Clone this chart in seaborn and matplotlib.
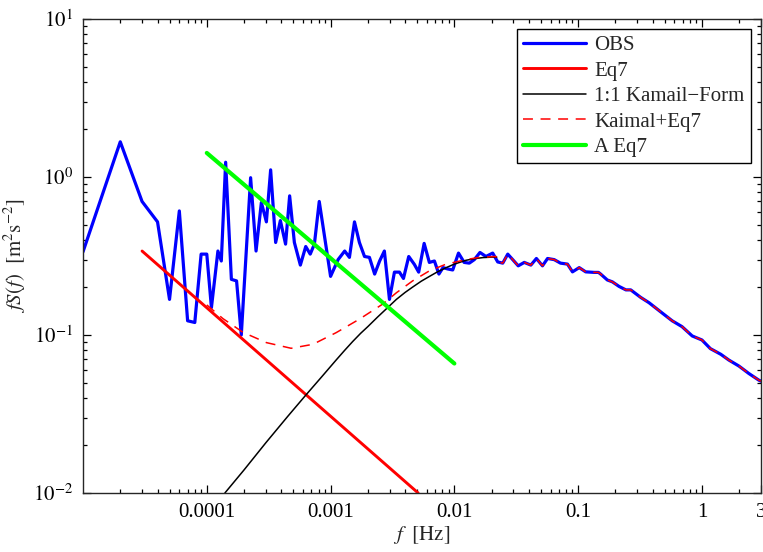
import numpy as np
import pandas as pd
import matplotlib
matplotlib.use("Agg")
import matplotlib.pyplot as plt
import seaborn as sns
from matplotlib.ticker import FixedLocator, NullFormatter, LogLocator

# ---------------- data ----------------
obs_f = [1e-5, 2e-5, 3e-5, 4e-5, 5e-5, 6e-5, 7e-5, 8e-5, 9e-5, 1.0e-4,
         1.09e-4, 1.23e-4, 1.31e-4, 1.42e-4, 1.58e-4, 1.74e-4, 1.9e-4, 2.26e-4, 2.5e-4, 2.76e-4,
         3.03e-4, 3.28e-4, 3.6e-4, 3.93e-4, 4.33e-4, 4.67e-4, 5.1e-4, 5.7e-4, 6.3e-4, 6.85e-4,
         7.4e-4, 8.1e-4, 1.0e-3, 1.15e-3, 1.3e-3, 1.42e-3, 1.56e-3, 1.71e-3, 1.88e-3, 2.06e-3,
         2.27e-3, 2.49e-3, 2.72e-3, 2.99e-3, 3.28e-3, 3.6e-3, 3.88e-3, 4.28e-3, 4.75e-3, 5.15e-3,
         5.7e-3, 6.28e-3, 6.9e-3, 7.5e-3, 8.1e-3, 8.8e-3, 9.7e-3, 1.08e-2, 1.2e-2, 1.32e-2,
         1.45e-2, 1.61e-2, 1.8e-2, 2.04e-2, 2.24e-2, 2.46e-2, 2.7e-2, 2.96e-2, 3.28e-2, 3.67e-2,
         4.15e-2, 4.6e-2, 5.15e-2, 5.66e-2, 6.4e-2, 7.2e-2, 8.2e-2, 9.0e-2, 0.102, 0.115,
         0.135, 0.146, 0.152, 0.172, 0.189, 0.214, 0.243, 0.266, 0.32, 0.374,
         0.465, 0.575, 0.69, 0.835, 1.0, 1.17, 1.42, 1.65, 1.99, 2.39,
         2.88, 3.0]
obs_s = [0.336, 1.67, 0.70, 0.52, 0.168, 0.61, 0.123, 0.12, 0.325, 0.325,
         0.149, 0.34, 0.294, 1.24, 0.225, 0.22, 0.10, 0.99, 0.34, 0.69,
         0.52, 1.11, 0.385, 0.53, 0.376, 0.76, 0.385, 0.277, 0.363, 0.325,
         0.376, 0.70, 0.235, 0.30, 0.34, 0.31, 0.52, 0.385, 0.314, 0.31,
         0.243, 0.294, 0.34, 0.168, 0.25, 0.25, 0.228, 0.314, 0.28, 0.25,
         0.38, 0.288, 0.294, 0.243, 0.267, 0.262, 0.258, 0.33, 0.288, 0.285,
         0.30, 0.333, 0.314, 0.33, 0.29, 0.285, 0.325, 0.30, 0.274, 0.288,
         0.277, 0.305, 0.274, 0.305, 0.30, 0.285, 0.281, 0.251, 0.267, 0.251,
         0.249, 0.249, 0.243, 0.223, 0.217, 0.203, 0.193, 0.193, 0.173, 0.16,
         0.14, 0.123, 0.113, 0.0986, 0.093, 0.082, 0.0755, 0.0694, 0.0636, 0.0571,
         0.0518, 0.051]

eq7_f = [3e-5, 5.1e-3]
eq7_s = [0.34, 0.0100]

kaimal_f = [1.4e-4, 2.0e-4, 3.0e-4, 4.5e-4, 6.2e-4, 8.5e-4, 1.11e-3, 1.3e-3, 1.51e-3,
            1.75e-3, 2.0e-3, 2.4e-3, 2.81e-3, 3.4e-3, 4.0e-3, 4.6e-3, 5.4e-3, 6.3e-3,
            7.3e-3, 8.5e-3, 1.0e-2, 1.24e-2, 1.45e-2, 1.7e-2, 2.0e-2, 2.2e-2]
kaimal_s = [0.0100, 0.0140, 0.0208, 0.0305, 0.041, 0.0545, 0.0695, 0.080, 0.091,
            0.1025, 0.113, 0.130, 0.146, 0.168, 0.186, 0.201, 0.219, 0.235,
            0.251, 0.266, 0.281, 0.297, 0.304, 0.309, 0.311, 0.311]

kaeq7_f = [1.0e-4, 1.35e-4, 1.96e-4, 3.03e-4, 4.8e-4, 7.2e-4, 1.11e-3, 1.71e-3, 2.64e-3,
           3.4e-3, 4.6e-3, 6.3e-3, 8.5e-3, 1.24e-2, 1.59e-2, 2.17e-2]
kaeq7_s = [0.155, 0.127, 0.104, 0.0895, 0.0824, 0.0873, 0.1035, 0.126, 0.157,
           0.185, 0.220, 0.255, 0.280, 0.300, 0.310, 0.314]

aeq7_f = [1e-4, 1e-2]
aeq7_s = [1.42, 0.066]

x_ticks = [1e-4, 1e-3, 1e-2, 0.1, 1, 3]
x_labels = ["0.0001", "0.001", "0.01", "0.1", "1", "3"]
y_ticks = [1e-2, 1e-1, 1e0, 1e1]
y_labels = [r"$10^{-2}$", r"$10^{-1}$", r"$10^{0}$", r"$10^{1}$"]

# ---------------- style ----------------
sns.set_theme(style="ticks")
plt.rcParams["font.family"] = ["Liberation Serif", "DejaVu Serif"]
plt.rcParams["mathtext.fontset"] = "stix"
plt.rcParams["axes.linewidth"] = 1.0

fig = plt.figure(figsize=(7.63, 5.52), dpi=100)
ax = fig.add_axes([83 / 763, 1 - 493 / 552, (761 - 83) / 763, (493 - 19) / 552])
ax.set_xscale("log")
ax.set_yscale("log")

df_obs = pd.DataFrame({"f": obs_f, "S": obs_s})
df_eq7 = pd.DataFrame({"f": eq7_f, "S": eq7_s})
df_k = pd.DataFrame({"f": kaimal_f, "S": kaimal_s})
# Kaimal+Eq7 follows the fitted curve up to the peak, then the observations
hi = df_obs[df_obs["f"] > max(kaeq7_f)]
df_ke = pd.concat([pd.DataFrame({"f": kaeq7_f, "S": kaeq7_s}), hi], ignore_index=True)
df_a = pd.DataFrame({"f": aeq7_f, "S": aeq7_s})

common = dict(ax=ax, estimator=None, sort=False)
sns.lineplot(data=df_obs, x="f", y="S", color=(0, 0, 1), lw=2.3, label="OBS", **common)
sns.lineplot(data=df_eq7, x="f", y="S", color=(1, 0, 0), lw=2.1, label="Eq7", **common)
sns.lineplot(data=df_k, x="f", y="S", color="black", lw=1.1, label="1:1 Kamail\u2212Form", **common)
sns.lineplot(data=df_ke, x="f", y="S", color=(1, 0, 0), lw=1.1, label="Kaimal+Eq7",
             dashes=False, **common)
ax.lines[-1].set_linestyle((0, (6.5, 5)))
sns.lineplot(data=df_a, x="f", y="S", color=(0, 1, 0), lw=3.0, label="A Eq7", **common)

ax.set_xlim(1e-5, 3)
ax.set_ylim(1e-2, 10)

ax.xaxis.set_major_locator(FixedLocator(x_ticks))
ax.set_xticklabels(x_labels)
ax.xaxis.set_minor_locator(LogLocator(base=10, subs=np.arange(2, 10) * 1.0, numticks=20))
ax.xaxis.set_minor_formatter(NullFormatter())
ax.yaxis.set_major_locator(FixedLocator(y_ticks))
ax.set_yticklabels(y_labels)
ax.yaxis.set_minor_locator(LogLocator(base=10, subs=np.arange(2, 10) * 1.0, numticks=20))
ax.yaxis.set_minor_formatter(NullFormatter())

ax.tick_params(which="both", direction="in", top=True, right=True, colors="black",
               labelsize=15, width=0.9)
ax.tick_params(which="major", length=6, pad=7)
ax.tick_params(which="minor", length=3)

ax.set_xlabel(r"$f\ \ [\mathrm{Hz}]$", fontsize=15, labelpad=2)
ax.set_ylabel(r"$fS(f)\ \ [\mathrm{m^2s^{-2}}]$", fontsize=15, labelpad=4)

leg = ax.legend(loc="upper right", fontsize=15, frameon=True, fancybox=False,
                edgecolor="black", framealpha=1, handlelength=3.0, labelspacing=0.28,
                borderaxespad=0.5, borderpad=0.3, handletextpad=0.4)
leg.get_frame().set_linewidth(1.0)

fig.savefig("out.png", dpi=100)
